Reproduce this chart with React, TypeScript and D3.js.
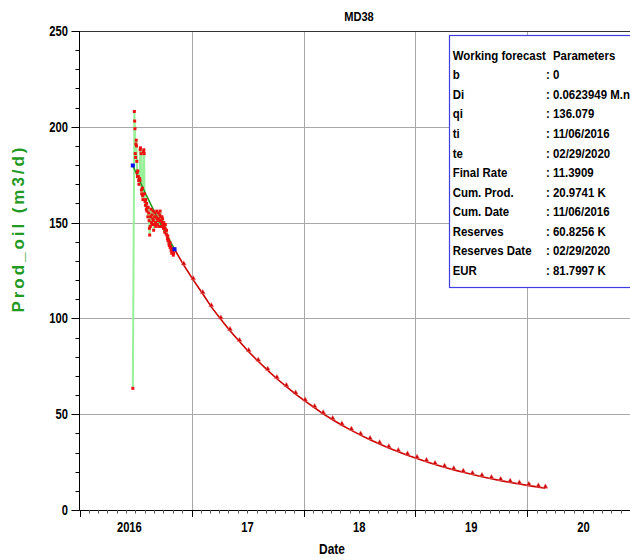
import React from "react";
import * as d3 from "d3";

const chartTitle = "MD38";
const yAxisTitle = "Prod_oil (m3/d)";
const xAxisTitle = "Date";
const yTickValues = [0, 50, 100, 150, 200, 250];
const yearLabels = ["2016", "17", "18", "19", "20"];
const yearStarts = ["2016-01-01", "2017-01-01", "2018-01-01", "2019-01-01", "2020-01-01"];

// historical daily production (days after histStart, m3/d)
const histStart = "2016-06-23";
const histDays = [0,5,6,7,8,9,10,11,12,13,14,15,16,18,19,20,22,23,24,25,27,28,29,31,32,33,35,36,37,38,40,41,42,44,45,46,48,49,50,52,53,54,55,57,58,59,61,62,63,65,66,67,68,70,71,72,74,75,76,78,79,80,82,83,84,85,87,88,89,91,92,93,95,96,97,99,100,101,102,104,105,106,108,109,110,112,113,114,115,117,118,119,121,122,123,125,126,127,129,130,132,133,135,136];
const histOil = [63.5,208,203,199,186,184,191,193,190,182,176,174,177,174,172,170,173,172,188,189,186,167,165,168,164,162,187,188,186,165,161,159,162,157,160,156,158,153,158,155,151,147,143.5,148,153,157,150,154,149,152,156,151,146,149,153,155,150,148,153,156,152,149,151,155,152,148,151,154,156,153,148,151,153,150,152,149,147,150,148,145,147,149,146,144,146,143,141.5,143,140.5,141,139,138,139.5,137,137.5,135.5,136.5,134,135,134.5,133,134,136,136.1];

// fitted decline over the history window
const fitDays = [0, 13, 44, 75, 105, 136];
const fitOil = [179.8, 175.1, 164.3, 154.2, 145.0, 136.1];

// forecast
const forecastDates = [
  "2016-11-06","2016-12-06","2017-01-06","2017-02-06","2017-03-06","2017-04-06","2017-05-06","2017-06-06",
  "2017-07-06","2017-08-06","2017-09-06","2017-10-06","2017-11-06","2017-12-06","2018-01-06","2018-02-06",
  "2018-03-06","2018-04-06","2018-05-06","2018-06-06","2018-07-06","2018-08-06","2018-09-06","2018-10-06",
  "2018-11-06","2018-12-06","2019-01-06","2019-02-06","2019-03-06","2019-04-06","2019-05-06","2019-06-06",
  "2019-07-06","2019-08-06","2019-09-06","2019-10-06","2019-11-06","2019-12-06","2020-01-06","2020-02-06","2020-02-29"];
const forecastOil = [136.08,127.85,120.12,112.85,106.02,99.61,93.58,87.92,82.60,77.61,72.91,68.50,64.36,60.47,56.81,53.37,50.14,47.11,44.26,41.58,39.07,36.70,34.48,32.40,30.44,28.60,26.87,25.24,23.72,22.28,20.93,19.67,18.48,17.36,16.31,15.32,14.40,13.53,12.71,11.94,11.39];

const legendHeader = ["Working forecast", "Parameters"];
const paramLabels = ["b","Di","qi","ti","te","Final Rate","Cum. Prod.","Cum. Date","Reserves","Reserves Date","EUR"];
const paramValues = ["0","0.0623949 M.n","136.079","11/06/2016","02/29/2020","11.3909","20.9741 K","11/06/2016","60.8256 K","02/29/2020","81.7997 K"];

const W = 630, H = 560;
const FONT = "'Liberation Sans', Arial, Helvetica, sans-serif";
const parse = d3.timeParse("%Y-%m-%d");

function NText(props: { x: number; y: number; sx?: number; size?: number; anchor?: string; fill?: string; children: any }) {
  const { x, y, sx = 0.88, size = 13, anchor = "start", fill = "#000", children } = props;
  return (
    <text transform={`translate(${x},${y}) scale(${sx},1)`} textAnchor={anchor as any} fontSize={size}
      fontWeight="bold" fontFamily={FONT} fill={fill}>{children}</text>
  );
}

export default function App() {
  const left = 79.5, top = 31, bottom = 510, right = 630;
  const x = d3.scaleTime().domain([new Date(2016, 0, 1), new Date(2021, 0, 1)]).range([79.5, 639.5]);
  const y = d3.scaleLinear().domain([0, 250]).range([bottom, top]);

  const start = parse(histStart)!;
  const hist = histDays.map((d, i) => ({ date: d3.timeDay.offset(start, d), v: histOil[i] }));
  const fit = fitDays.map((d, i) => ({ date: d3.timeDay.offset(start, d), v: fitOil[i] }));
  const fc = forecastDates.map((s, i) => ({ date: parse(s)!, v: forecastOil[i] }));

  const line = d3.line<{ date: Date; v: number }>().x(d => x(d.date)).y(d => y(d.v));
  const tri = d3.symbol().type(d3.symbolTriangle).size(11)()!;

  const years = yearStarts.map(s => parse(s)!);
  const months = d3.timeMonth.range(new Date(2016, 0, 1), new Date(2021, 0, 1)).filter(d => x(d) <= right);
  const yMinor = d3.range(0, 251, 10);
  const px = (v: number) => Math.round(v) + 0.5;

  return (
    <svg width={W} height={H} style={{ position: "absolute", left: 0, top: 0, background: "#fff" }}>
      <rect x={0} y={0} width={W} height={H} fill="#fff" />
      {/* grid */}
      {yTickValues.filter(v => v > 0 && v < 250).map(v => (
        <line key={"hg" + v} x1={left} x2={right} y1={px(y(v))} y2={px(y(v))} stroke="#a8a8a8" strokeWidth={1} />
      ))}
      {years.slice(1).map((d, i) => (
        <line key={"vg" + i} x1={px(x(d))} x2={px(x(d))} y1={top} y2={bottom} stroke="#a8a8a8" strokeWidth={1} />
      ))}
      <line x1={left} x2={right} y1={px(y(250))} y2={px(y(250))} stroke="#333" strokeWidth={1} />

      {/* history */}
      <path d={line(hist)!} fill="none" stroke="#98f098" strokeWidth={2} />
      <path d={line(fit)!} fill="none" stroke="#1a9a1a" strokeWidth={1.5} />
      {hist.map((d, i) => (
        <rect key={"h" + i} x={x(d.date) - 1.5} y={y(d.v) - 1.5} width={3} height={3} fill="#ee1111" />
      ))}
      {/* forecast */}
      <path d={line(fc)!} fill="none" stroke="#cc0000" strokeWidth={1.6} />
      {fc.slice(1).map((d, i) => (
        <path key={"f" + i} d={tri} transform={`translate(${x(d.date)},${y(d.v) - 1.5})`} fill="#cc0000" stroke="#f09090" strokeWidth={0.5} />
      ))}
      {[fit[0], fit[fit.length - 1]].map((d, i) => (
        <rect key={"b" + i} x={x(d.date) - 2} y={y(d.v) - 2} width={4} height={4} fill="#1010ee" />
      ))}

      {/* axes */}
      <line x1={left} x2={left} y1={top} y2={bottom + 0.5} stroke="#000" />
      <line x1={left} x2={right} y1={bottom + 0.5} y2={bottom + 0.5} stroke="#000" />
      {yMinor.map(v => (
        <line key={"ym" + v} x1={v % 50 === 0 ? left - 8 : left - 4} x2={left} y1={px(y(v))} y2={px(y(v))} stroke="#000" />
      ))}
      {months.map((d, i) => {
        const major = d.getMonth() === 0;
        return <line key={"xm" + i} x1={px(x(d))} x2={px(x(d))} y1={bottom} y2={bottom + (major ? 7 : 3.5)} stroke={major ? "#000" : "#555"} />;
      })}
      {yTickValues.map(v => (
        <NText key={"yl" + v} x={68} y={y(v) + 5} anchor="end" size={14} sx={0.8}>{v}</NText>
      ))}
      {yearLabels.map((s, i) => {
        const mid = x(d3.timeMonth.offset(years[i], 6));
        return <NText key={"xl" + i} x={mid + 6.5} y={532} anchor="end" size={14} sx={0.8}>{s}</NText>;
      })}
      <NText x={332} y={554} anchor="middle" size={14} sx={0.85}>{xAxisTitle}</NText>
      <NText x={359} y={21} anchor="middle" size={12.6} sx={0.88}>{chartTitle}</NText>
      <text transform="translate(24,230) rotate(-90)" textAnchor="middle" fontSize={17} fontWeight="bold"
        fontFamily={FONT} fill="#229922" textLength={165} lengthAdjust="spacing">{yAxisTitle}</text>

      {/* legend */}
      <rect x={449.5} y={35.5} width={200} height={252} fill="#fff" stroke="#3f3fe0" strokeWidth={1.2} />
      <NText x={452.7} y={60}>{legendHeader[0]}</NText>
      <NText x={553} y={60}>{legendHeader[1]}</NText>
      {paramLabels.map((s, i) => (
        <g key={"p" + i}>
          <NText x={452.7} y={79.3 + i * 19.55}>{s}</NText>
          <NText x={546} y={79.3 + i * 19.55}>{": " + paramValues[i]}</NText>
        </g>
      ))}
    </svg>
  );
}
